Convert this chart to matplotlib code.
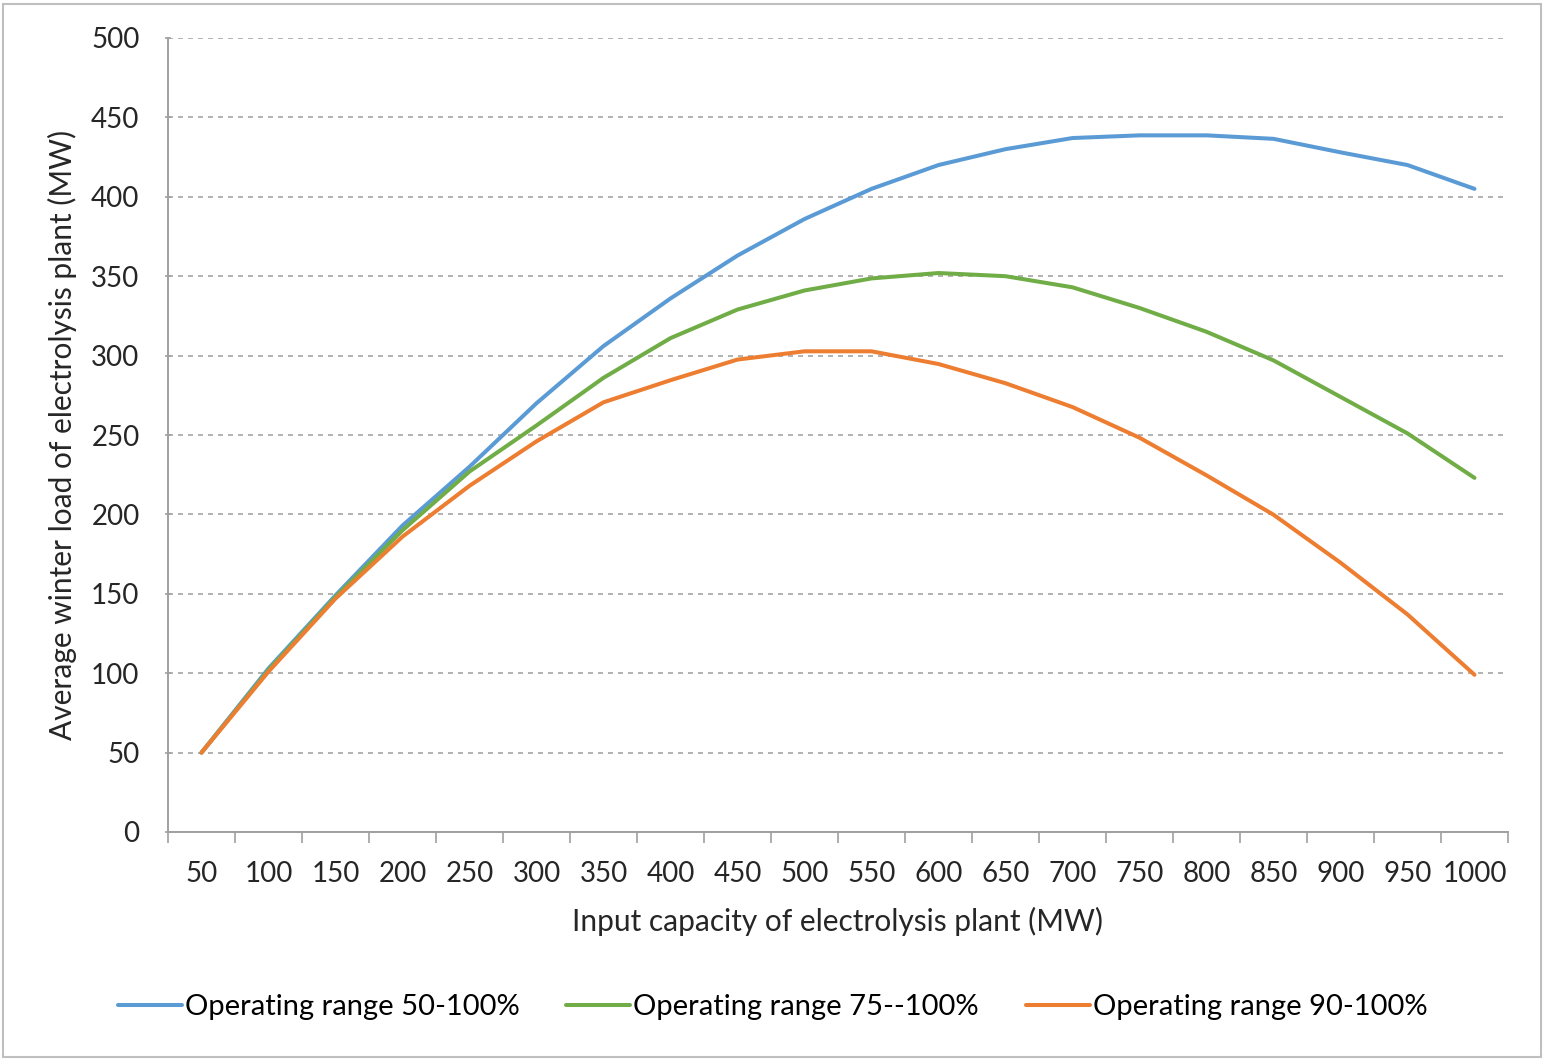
import matplotlib.pyplot as plt
from matplotlib.patches import Rectangle
import numpy as np

plt.rcParams['font.family'] = ['Lato', 'DejaVu Sans']

capacity = [50, 100, 150, 200, 250, 300, 350, 400, 450, 500,
            550, 600, 650, 700, 750, 800, 850, 900, 950, 1000]

range_50_100 = [50, 103, 149, 193, 230, 270, 306, 336, 363, 386,
                405, 420, 430, 437, 438.7, 438.7, 436.5, 428, 420, 405]
range_75_100 = [50, 102, 148, 190, 227, 256, 286, 311, 329, 341,
                348.6, 352, 350, 343, 330, 315, 297, 274, 251, 223]
range_90_100 = [50, 101, 147, 186, 218, 246, 270.6, 284.5, 297.5, 302.7,
                302.7, 294.7, 282.6, 267.6, 248.3, 224.6, 199.8, 169.6, 137, 99]

labels = ['Operating range 50-100%', 'Operating range 75--100%', 'Operating range 90-100%']
colors = ['#5B9BD5', '#70AD47', '#ED7D31']
axis_gray = '#A0A0A0'

fig = plt.figure(figsize=(15.45, 10.6), dpi=100)
ax = fig.add_axes([168/1545, 1-832/1060, (1508-168)/1545, (832-38)/1060])

xpos = np.arange(len(capacity))
for ys, lab, c in zip([range_50_100, range_75_100, range_90_100], labels, colors):
    ax.plot(xpos, ys, color=c, lw=2.9, label=lab, solid_capstyle='round')

ax.set_xlim(-0.5, len(capacity)-0.5)
ax.set_ylim(0, 500)
ax.set_yticks(np.arange(0, 501, 50))
ax.yaxis.grid(True, linestyle=(0, (3, 3)), color='#A6A6A6', lw=1.2)
ax.set_axisbelow(True)

# category boundaries get the tick marks, centers get the labels
ax.set_xticks(np.arange(-0.5, len(capacity), 1))
ax.set_xticklabels([])
ax.set_xticks(xpos, minor=True)
ax.set_xticklabels([str(c) for c in capacity], minor=True)
ax.tick_params(axis='x', which='major', length=8, color=axis_gray, width=1.2)
ax.tick_params(axis='x', which='minor', length=0, labelsize=20, pad=21, labelcolor='#262626')
ax.tick_params(axis='y', length=5, direction='inout', color=axis_gray, width=1.2,
               labelsize=20, pad=18, labelcolor='#262626')

for s in ['top', 'right']:
    ax.spines[s].set_visible(False)
for s in ['left', 'bottom']:
    ax.spines[s].set_color(axis_gray)
    ax.spines[s].set_linewidth(1.4)

ax.set_xlabel('Input capacity of electrolysis plant (MW)', fontsize=21.5, color='#262626', labelpad=14)
ax.set_ylabel('Average winter load of electrolysis plant (MW)', fontsize=21.5, color='#262626', labelpad=10)

fig.legend(loc='center', bbox_to_anchor=(0.5, 1-1007/1060), ncol=3, frameon=False,
           fontsize=21, handlelength=2.2, handletextpad=0.1, columnspacing=1.6)

fig.patches.append(Rectangle((3/1545, 3/1060), 1-7/1545, 1-7/1060, transform=fig.transFigure,
                             fill=False, edgecolor='#BFBFBF', lw=1.5))

fig.savefig('out.png', dpi=100)
